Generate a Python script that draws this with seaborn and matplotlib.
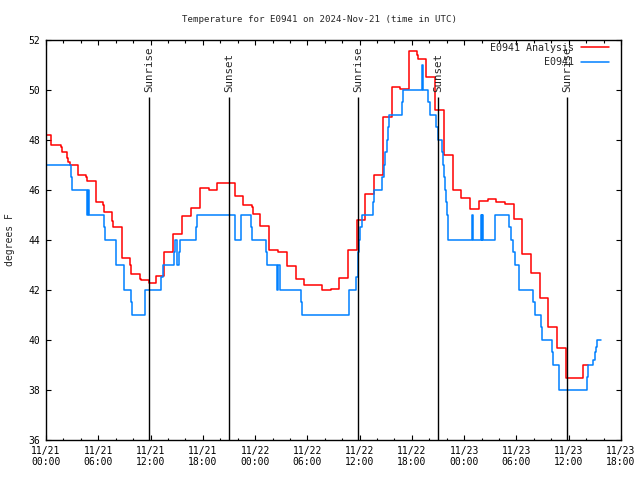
import pandas as pd
import matplotlib
matplotlib.use("Agg")
import matplotlib.pyplot as plt
import matplotlib.dates as mdates
import seaborn as sns

# Hours after 2024-11-21 00:00 UTC at which each step starts, and the value held.
analysis_hours = [0.0, 0.61, 1.69, 1.84, 2.44, 2.58, 2.72, 3.64, 3.71, 4.62, 4.74, 5.70, 5.77,
                  6.57, 6.69, 7.61, 7.69, 8.69, 8.76, 9.67, 9.79, 10.79, 10.87, 11.82, 12.66,
                  13.60, 14.63, 15.66, 16.60, 16.67, 17.71, 18.74, 19.68, 20.65, 21.65, 22.64,
                  23.67, 23.75, 24.61, 25.65, 26.68, 27.62, 27.69, 28.65, 28.72, 29.64, 31.63,
                  32.70, 33.65, 34.69, 35.69, 36.64, 37.64, 38.63, 38.70, 39.70, 40.68, 41.69,
                  42.63, 42.69, 43.64, 44.66, 45.67, 46.67, 47.65, 48.71, 49.68, 50.68, 51.64,
                  52.69, 53.72, 54.68, 55.65, 56.68, 57.64, 58.60, 59.64, 61.65, 62.23]
analysis_temps = [48.2, 47.8, 47.7, 47.5, 47.3, 47.1, 47.0, 46.8, 46.6, 46.5, 46.35, 45.95, 45.5,
                  45.4, 45.1, 44.75, 44.5, 43.95, 43.3, 43.0, 42.65, 42.45, 42.4, 42.3, 42.55,
                  43.5, 44.25, 44.95, 45.1, 45.27, 46.07, 46.0, 46.27, 46.3, 45.77, 45.4,
                  45.33, 45.05, 44.55, 43.6, 43.5, 43.23, 42.95, 42.67, 42.43, 42.19, 42.0,
                  42.03, 42.47, 43.6, 44.8, 45.83, 46.6, 47.8, 48.9, 50.1, 50.05, 51.55,
                  51.4, 51.23, 50.53, 49.2, 47.4, 46.0, 45.67, 45.24, 45.56, 45.63, 45.51,
                  45.44, 44.83, 43.44, 42.67, 41.67, 40.53, 39.67, 38.47, 39.0, 39.0]

obs_hours = [0.0, 2.83, 2.96, 4.76, 4.85, 4.93, 6.66, 6.77, 8.09, 8.98, 9.81, 9.90, 11.39,
             13.23, 13.39, 14.72, 14.80, 15.07, 15.30, 15.43, 17.27, 17.36, 21.69, 22.34,
             22.43, 23.52, 23.69, 25.24, 25.39, 26.51, 26.66, 26.88, 29.26, 29.43, 34.80,
             35.61, 35.77, 35.86, 35.97, 36.09, 36.26, 37.56, 37.69, 38.61, 38.78, 38.92,
             39.09, 39.24, 39.41, 40.82, 40.93, 43.11, 43.29, 43.80, 44.12, 44.79, 44.95,
             45.40, 45.52, 45.67, 45.78, 45.90, 45.98, 46.09, 46.16, 48.92, 49.05, 49.88,
             50.00, 50.06, 50.20, 51.58, 53.16, 53.32, 53.62, 53.78, 54.31, 55.92, 56.08,
             56.76, 56.88, 58.03, 58.14, 58.90, 62.11, 62.25, 62.82, 63.00, 63.11, 63.26, 63.76]
obs_temps = [47, 46.5, 46, 45, 46, 45, 44.5, 44, 43, 42, 41.5, 41, 42,
             42.5, 43, 43.5, 44, 43, 43.5, 44, 44.5, 45, 44, 44.5,
             45, 44.5, 44, 43.5, 43, 42, 43, 42, 41.5, 41, 42,
             42.5, 43, 43.5, 44, 44.5, 45, 45.5, 46, 46.5, 47, 47.5,
             48, 48.5, 49, 49.5, 50, 51, 50, 49.5, 49, 48.5, 48,
             47.5, 47, 46.5, 46, 45.5, 45, 44.5, 44, 45, 44, 45,
             44, 45, 44, 45, 44.5, 44, 43.5, 43, 42, 41.5, 41,
             40.5, 40, 39.5, 39, 38, 38.5, 39, 39.2, 39.5, 39.7, 40, 40]

sun_events = ["Sunrise", "Sunset", "Sunrise", "Sunset", "Sunrise"]
sun_times = ["2024-11-21 11:51", "2024-11-21 21:02", "2024-11-22 11:50",
             "2024-11-22 21:01", "2024-11-23 11:49"]

start = pd.Timestamp("2024-11-21 00:00")
analysis = pd.DataFrame({"time": start + pd.to_timedelta(analysis_hours, unit="h"),
                         "temp": analysis_temps, "series": "E0941 Analysis"})
obs = pd.DataFrame({"time": start + pd.to_timedelta(obs_hours, unit="h"),
                    "temp": obs_temps, "series": "E0941"})
data = pd.concat([analysis, obs], ignore_index=True)

sns.set_style("ticks")
plt.rcParams["font.family"] = ["DejaVu Sans Mono"]
plt.rcParams["font.size"] = 7

fig = plt.figure(figsize=(6.4, 4.8), dpi=100)
ax = fig.add_axes([46 / 640, 40 / 480, 575 / 640, 400 / 480])

sns.lineplot(data=data, x="time", y="temp", hue="series",
             palette={"E0941 Analysis": "#ff0000", "E0941": "#0080ff"},
             estimator=None, drawstyle="steps-post", linewidth=1.1, ax=ax)

for name, t in zip(sun_events, sun_times):
    tt = pd.Timestamp(t)
    ax.vlines(tt, 36, 49.7, color="black", linewidth=1.0, zorder=5)
    ax.text(tt, 49.92, name, rotation=90, ha="center", va="bottom", fontsize=7.8)

ax.set_xlim(start, pd.Timestamp("2024-11-23 18:00"))
ax.set_ylim(36, 52)
ax.set_yticks(range(36, 53, 2))
ax.xaxis.set_major_locator(mdates.HourLocator(byhour=range(0, 24, 6)))
ax.xaxis.set_minor_locator(mdates.HourLocator(byhour=range(0, 24, 2)))
ax.xaxis.set_major_formatter(mdates.DateFormatter("%m/%d\n%H:%M"))
ax.tick_params(which="both", direction="in", top=True, right=True, colors="black",
               labelsize=7, width=0.8)
ax.tick_params(which="major", length=3.5, pad=4)
ax.tick_params(which="minor", length=1.8)
for s in ax.spines.values():
    s.set_color("black")
    s.set_linewidth(1.0)

ax.set_xlabel("")
ax.set_ylabel("")
fig.text(10 / 640, 0.5, "degrees F", rotation=90, ha="center", va="center", fontsize=7)
fig.text(0.5, 1 - 20 / 480, "Temperature for E0941 on 2024-Nov-21 (time in UTC)",
         ha="center", va="center", fontsize=6.6)

leg = ax.legend(loc="upper right", frameon=False, markerfirst=False, fontsize=7.2,
                handlelength=2.8, handletextpad=0.7, labelspacing=0.45,
                borderaxespad=0.3, bbox_to_anchor=(1 - 5 / 575, 1 + 4 / 400))

fig.savefig("out.png", dpi=100)
